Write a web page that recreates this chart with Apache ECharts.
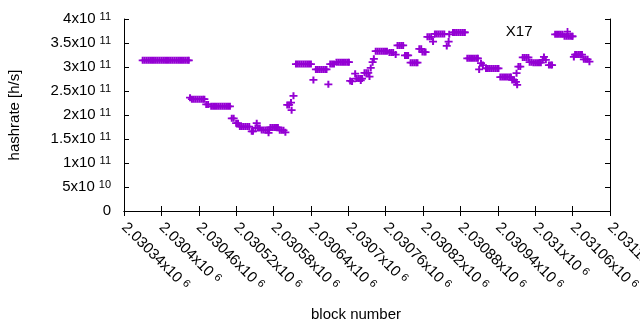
<!DOCTYPE html>
<html>
<head>
<meta charset="utf-8">
<title>X17 hashrate</title>
<script src="https://cdn.jsdelivr.net/npm/echarts@6/dist/echarts.min.js"></script>
<style>
    html, body { margin: 0; padding: 0; background: #fff; }
    #chart { width: 640px; height: 330px; }
</style>
</head>
<body>
<div id="chart"></div>
<script>
// [block number, hashrate h/s]
const firstPlateau = [
    [2030370, 314e9], [2030373, 314e9], [2030376, 314e9], [2030379, 314e9], [2030382, 314e9],
    [2030385, 314e9], [2030388, 314e9], [2030391, 314e9], [2030394, 314e9], [2030397, 314e9],
    [2030400, 314e9], [2030403, 314e9], [2030406, 314e9], [2030409, 314e9], [2030412, 314e9],
    [2030415, 314e9], [2030418, 314e9], [2030421, 314e9], [2030424, 314e9], [2030427, 314e9],
    [2030430, 314e9], [2030433, 314e9], [2030436, 314e9], [2030439, 314e9], [2030442, 314e9],
    [2030444, 314e9]
];
const firstDrop = [
    [2030446, 236e9], [2030449, 233e9], [2030452, 233e9], [2030455, 233e9], [2030458, 233e9],
    [2030461, 233e9], [2030464, 233e9], [2030467, 233e9], [2030469, 233e9],
    [2030472, 222e9], [2030475, 222e9],
    [2030480, 218e9], [2030483, 218e9], [2030486, 218e9], [2030489, 218e9], [2030492, 218e9],
    [2030495, 218e9], [2030498, 218e9], [2030501, 218e9], [2030504, 218e9], [2030507, 218e9],
    [2030510, 218e9]
];
const lowStretch = [
    [2030513, 193e9], [2030516, 193e9], [2030520, 183e9], [2030523, 183e9],
    [2030526, 176e9], [2030529, 176e9], [2030532, 176e9], [2030535, 176e9], [2030538, 176e9],
    [2030541, 176e9], [2030545, 166e9], [2030547, 166e9],
    [2030551, 173e9], [2030553, 183e9], [2030555, 173e9], [2030558, 173e9],
    [2030561, 169e9], [2030564, 169e9], [2030567, 169e9], [2030570, 169e9], [2030572, 163e9],
    [2030573, 169e9], [2030575, 174e9], [2030578, 174e9], [2030581, 174e9], [2030584, 174e9],
    [2030587, 174e9], [2030590, 168e9], [2030593, 168e9], [2030596, 168e9], [2030599, 164e9]
];
const recovery = [
    [2030602, 221e9], [2030605, 221e9], [2030608, 226e9], [2030609, 210e9], [2030612, 240e9],
    [2030616, 306e9], [2030619, 306e9], [2030622, 306e9], [2030625, 306e9], [2030628, 306e9],
    [2030631, 306e9], [2030634, 306e9], [2030637, 306e9], [2030640, 306e9],
    [2030644, 273e9],
    [2030648, 295e9], [2030651, 295e9], [2030654, 295e9], [2030657, 295e9], [2030660, 295e9],
    [2030663, 295e9], [2030665, 295e9],
    [2030668, 264e9],
    [2030671, 306e9], [2030674, 306e9], [2030677, 306e9],
    [2030681, 310e9], [2030684, 310e9], [2030687, 310e9], [2030690, 310e9], [2030693, 310e9],
    [2030696, 310e9], [2030699, 310e9], [2030701, 310e9]
];
const climb = [
    [2030703, 271e9], [2030706, 270e9], [2030711, 286e9], [2030713, 276e9], [2030716, 276e9],
    [2030719, 276e9], [2030720, 272e9], [2030722, 276e9], [2030726, 288e9], [2030729, 288e9],
    [2030732, 288e9], [2030734, 280e9], [2030736, 298e9], [2030739, 310e9], [2030741, 317e9],
    [2030744, 333e9], [2030747, 333e9], [2030750, 333e9], [2030753, 333e9], [2030756, 333e9],
    [2030759, 333e9], [2030762, 333e9],
    [2030766, 330e9], [2030769, 330e9], [2030772, 330e9], [2030776, 326e9],
    [2030779, 345e9], [2030782, 345e9], [2030785, 345e9], [2030788, 345e9],
    [2030791, 324e9], [2030794, 324e9], [2030796, 324e9],
    [2030800, 309e9], [2030803, 309e9], [2030806, 309e9], [2030809, 309e9], [2030811, 309e9],
    [2030814, 338e9], [2030817, 338e9], [2030819, 331e9], [2030822, 331e9], [2030824, 331e9]
];
const peak = [
    [2030827, 363e9], [2030830, 363e9], [2030833, 363e9], [2030836, 353e9],
    [2030839, 369e9], [2030842, 369e9], [2030845, 369e9], [2030848, 369e9], [2030851, 369e9],
    [2030854, 369e9], [2030858, 344e9], [2030861, 353e9], [2030862, 368e9],
    [2030868, 372e9], [2030871, 372e9], [2030874, 372e9], [2030877, 372e9], [2030880, 372e9],
    [2030883, 372e9], [2030886, 372e9], [2030887, 372e9]
];
const secondDip = [
    [2030891, 318e9], [2030894, 318e9], [2030897, 318e9], [2030900, 318e9], [2030903, 318e9],
    [2030906, 318e9], [2030908, 318e9], [2030910, 295e9], [2030913, 308e9], [2030916, 304e9],
    [2030921, 297e9], [2030924, 297e9], [2030927, 297e9], [2030930, 297e9], [2030933, 297e9],
    [2030936, 297e9], [2030939, 297e9], [2030941, 297e9],
    [2030944, 279e9], [2030947, 279e9], [2030950, 279e9], [2030953, 279e9], [2030956, 279e9],
    [2030959, 279e9], [2030961, 279e9], [2030963, 273e9], [2030966, 273e9],
    [2030969, 269e9], [2030970, 287e9], [2030971, 263e9], [2030973, 301e9], [2030976, 301e9],
    [2030980, 320e9], [2030983, 320e9], [2030986, 320e9], [2030989, 320e9],
    [2030991, 310e9], [2030994, 310e9], [2030997, 309e9], [2031000, 309e9], [2031003, 309e9],
    [2031006, 309e9], [2031009, 309e9], [2031012, 315e9], [2031014, 321e9], [2031017, 315e9],
    [2031022, 304e9], [2031025, 304e9], [2031027, 304e9]
];
const lastStretch = [
    [2031032, 368e9], [2031035, 368e9], [2031038, 368e9], [2031041, 368e9], [2031044, 368e9],
    [2031047, 364e9], [2031050, 364e9], [2031053, 364e9], [2031056, 364e9], [2031059, 364e9],
    [2031060, 364e9],
    [2031062, 321e9], [2031064, 326e9], [2031066, 326e9], [2031069, 326e9], [2031072, 326e9],
    [2031075, 326e9], [2031078, 316e9], [2031081, 316e9], [2031084, 316e9], [2031087, 311e9]
];

const seriesName = 'X17';
const blockMin = 2030340;
const blockMax = 2031120;
const blockStep = 60;
const rateMax = 4e11;
const rateStep = 5e10;

const FONT = 'Liberation Sans';
const PLUS = 'path://M3,0H5V3H8V5H5V8H3V5H0V3H3Z';

// gnuplot style "2.5x10^11"
function sciLabel(value) {
    if (value === 0) {
        return '{m|0}';
    }
    const exp = Math.floor(Math.log10(value) + 1e-9);
    const mant = parseFloat((value / Math.pow(10, exp)).toPrecision(6));
    return '{m|' + mant + 'x10}{e|' + exp + '}';
}

const rich = {
    m: { fontFamily: FONT, fontSize: 15, lineHeight: 16, color: '#000' },
    e: { fontFamily: FONT, fontSize: 11, lineHeight: 11, color: '#000', verticalAlign: 'top', padding: [0, 0, 0, 4] }
};

const lineStyle = { color: '#000', width: 1 };

const chart = echarts.init(document.getElementById('chart'));

chart.setOption({
    animation: false,
    backgroundColor: '#fff',
    textStyle: { fontFamily: FONT },
    grid: { left: 124, right: 30, top: 19, bottom: 119, outerBoundsMode: 'none' },
    legend: {
        data: [{ name: seriesName, icon: PLUS }],
        right: 69,
        top: 24,
        padding: 0,
        align: 'right',
        itemWidth: 8,
        itemHeight: 7,
        selectedMode: false,
        textStyle: { fontFamily: FONT, fontSize: 15, color: '#000', padding: [0, 26, 0, 0] }
    },
    xAxis: [
        {
            type: 'value',
            position: 'bottom',
            min: blockMin,
            max: blockMax,
            interval: blockStep,
            name: 'block number',
            nameLocation: 'middle',
            nameGap: 96,
            nameTextStyle: { fontFamily: FONT, fontSize: 15, color: '#000', padding: [0, 22, 0, 0] },
            axisLine: { lineStyle: lineStyle },
            axisTick: { inside: true, length: 5, lineStyle: lineStyle },
            axisLabel: { rotate: -45, margin: 14, formatter: sciLabel, rich: rich },
            splitLine: { show: false }
        },
        {
            type: 'value',
            position: 'top',
            min: blockMin,
            max: blockMax,
            interval: blockStep,
            axisLine: { lineStyle: lineStyle },
            axisTick: { inside: true, length: 5, lineStyle: lineStyle },
            axisLabel: { show: false },
            splitLine: { show: false }
        }
    ],
    yAxis: [
        {
            type: 'value',
            position: 'left',
            min: 0,
            max: rateMax,
            interval: rateStep,
            name: 'hashrate [h/s]',
            nameLocation: 'middle',
            nameRotate: 90,
            nameGap: 102,
            nameTextStyle: { fontFamily: FONT, fontSize: 15, color: '#000' },
            axisLine: { show: true, lineStyle: lineStyle },
            axisTick: { show: true, inside: true, length: 5, lineStyle: lineStyle },
            axisLabel: { margin: 13, formatter: sciLabel, rich: rich },
            splitLine: { show: false }
        },
        {
            type: 'value',
            position: 'right',
            min: 0,
            max: rateMax,
            interval: rateStep,
            axisLine: { show: true, lineStyle: lineStyle },
            axisTick: { show: true, inside: true, length: 5, lineStyle: lineStyle },
            axisLabel: { show: false },
            splitLine: { show: false }
        }
    ],
    series: [
        {
            name: seriesName,
            type: 'scatter',
            symbol: PLUS,
            symbolSize: [8, 7],
            itemStyle: { color: '#9400d3', opacity: 1 },
            emphasis: { disabled: true },
            data: [].concat(firstPlateau, firstDrop, lowStretch, recovery, climb, peak, secondDip, lastStretch)
        }
    ]
});
</script>
</body>
</html>
